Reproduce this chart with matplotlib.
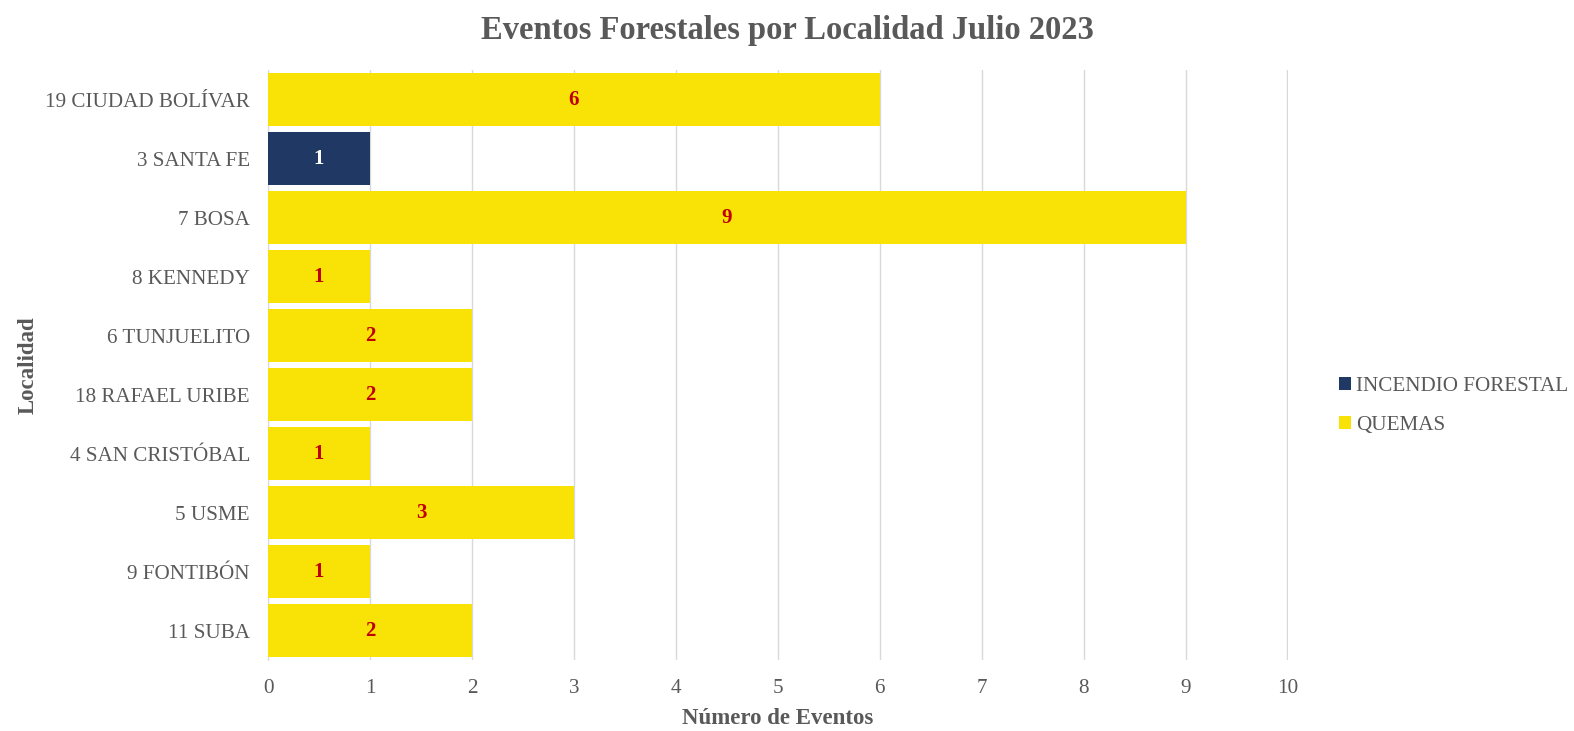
import numpy as np
import matplotlib.pyplot as plt

# Datos
localidades = ["19 CIUDAD BOLÍVAR", "3 SANTA FE", "7 BOSA", "8 KENNEDY",
               "6 TUNJUELITO", "18 RAFAEL URIBE", "4 SAN CRISTÓBAL",
               "5 USME", "9 FONTIBÓN", "11 SUBA"]
incendio = [0, 1, 0, 0, 0, 0, 0, 0, 0, 0]
quemas = [6, 0, 9, 1, 2, 2, 1, 3, 1, 2]

gris = "#595959"
azul = "#203864"
amarillo = "#F9E205"

plt.rcParams["font.family"] = ["Liberation Serif", "DejaVu Serif"]

fig = plt.figure(figsize=(15.74, 7.31), dpi=100)
ax = fig.add_axes([0.1703, 0.0971, 0.648, 0.807])

y = np.arange(len(localidades))
b1 = ax.barh(y, incendio, height=0.9, color=azul, label="INCENDIO FORESTAL", zorder=3)
b2 = ax.barh(y, quemas, left=incendio, height=0.9, color=amarillo, label="QUEMAS", zorder=3)

# Etiquetas de datos
for rect, v in zip(b1, incendio):
    if v:
        ax.text(rect.get_x() + rect.get_width() / 2, rect.get_y() + rect.get_height() / 2,
                str(v), ha="center", va="center", color="white",
                fontsize=15, fontweight="bold", zorder=4)
for rect, v in zip(b2, quemas):
    if v:
        ax.text(rect.get_x() + rect.get_width() / 2, rect.get_y() + rect.get_height() / 2,
                str(v), ha="center", va="center", color="#C00000",
                fontsize=15, fontweight="bold", zorder=4)

ax.set_ylim(len(localidades) - 0.5, -0.5)
ax.set_xlim(0, 10.005)
ax.set_yticks(y)
ax.set_yticklabels(localidades)
ax.set_xticks(range(0, 11))
ax.tick_params(axis="y", length=0, pad=13, labelsize=15.2, labelcolor=gris)
ax.tick_params(axis="x", length=0, pad=14, labelsize=15.2, labelcolor=gris)
ax.grid(axis="x", color="#D9D9D9", linewidth=1, zorder=0)

for s in ["top", "right", "bottom"]:
    ax.spines[s].set_visible(False)
ax.spines["left"].set_color("#D9D9D9")

ax.set_xlabel("Número de Eventos", fontsize=16.5, fontweight="bold", color=gris, labelpad=7)
ax.set_ylabel("Localidad", fontsize=16.5, fontweight="bold", color=gris, labelpad=5)
fig.suptitle("Eventos Forestales por Localidad Julio 2023", fontsize=23.5,
             fontweight="bold", color=gris, y=0.98)

leg = fig.legend(handles=[b1, b2], loc="center left", bbox_to_anchor=(0.851, 0.445),
                 frameon=False, fontsize=15.2, handlelength=0.55, handleheight=0.55,
                 handletextpad=0.25, labelspacing=0.95, borderaxespad=0, borderpad=0)
for t in leg.get_texts():
    t.set_color(gris)

fig.savefig("out.png", dpi=100)
